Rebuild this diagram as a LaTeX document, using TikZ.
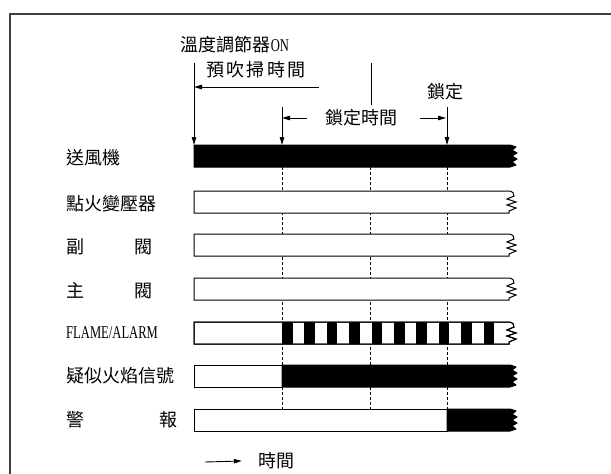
\documentclass[tikz,border=0pt]{standalone}
\usepackage{fontspec}
\newfontfamily\cjk{Noto Sans CJK TC}
\newfontfamily\latf[FakeStretch=0.7]{Liberation Serif}
\usetikzlibrary{arrows.meta}
\begin{document}
\begin{tikzpicture}[
x=1pt, y=-1pt,
>={Triangle[length=8pt,width=4.5pt]},
frm/.style = {draw=black!75,line width=2.5pt},
lbl/.style = {anchor=west,inner sep=0pt,font=\cjk\fontsize{18}{20}\selectfont},
txt/.style = {inner sep=0pt,font=\cjk\fontsize{18}{20}\selectfont},
arr/.style = {draw,->,line width=0.9pt},
tck/.style = {draw,line width=0.9pt},
dsh/.style = {draw,line width=0.8pt,dash pattern=on 3pt off 2pt},
wbar/.style = {draw,fill=white,line width=1pt},
bbar/.style = {draw,fill=black,line width=1pt,line join=round},
torn/.style = {insert path={-- ++(6,2) -- ++(-4,3) -- ++(5,3) -- ++(-5,3) -- ++(5,3) -- ++(-5,3) -- ++(4,3) -- ++(-6,2)}},
wavy/.style = {insert path={to[out=0,in=90] ++(4,5) -- ++(-7,3) -- ++(9,3) -- ++(-9,3) -- ++(9,3) -- ++(-7,3) -- ++(0,2)}}
]
  \useasboundingbox (0,0) rectangle (611,474);
  \path[frm] (611,14) -- (10,14) -- (10,474);

  \coordinate (t0) at (194,145);
  \coordinate (t1) at (282,145);
  \coordinate (t2) at (370,145);
  \coordinate (t3) at (447,145);
  \coordinate (s0) at (194,63);
  \coordinate (s1) at (282,107);
  \coordinate (s3) at (447,107);
  \coordinate (m2a) at (371,63);
  \coordinate (m2b) at (371,105);
  \coordinate (pg) at (319,87);
  \coordinate (ts) at (205,462);

  \node[txt] (ton) at (235,45) {溫度調節器{\latf ON}};
  \node[txt] (purge) at (256,70) {預\kern2.5pt 吹\kern2.5pt 掃\kern2.5pt 時\kern2.5pt 間};
  \node[txt] (lockt) at (361,118) {鎖定時間};
  \node[txt] (lock) at (445,92) {鎖定};
  \node[txt] (time) at (276,461) {時間};

  \path[arr] (s0) -- (t0);
  \path[arr] (pg) -- (t0 |- pg);
  \path[arr] (s1) -- (t1);
  \path[arr] (s3) -- (t3);
  \path[tck] (m2a) -- (m2b);
  \path[arr] ([xshift=-18pt]lockt.west) -- (t1 |- lockt);
  \path[arr] ([xshift=23pt]lockt.east) -- ([xshift=-1pt]t3 |- lockt);
  \path[arr] (ts) -- ([xshift=-16pt]time.west);

  \path[dsh] (282,167) -- (282,409);
  \path[dsh] (370,167) -- (370,409);
  \path[dsh] (447,167) -- (447,409);

  \node[lbl] (fan) at (66,158) {送風機};
  \node[lbl] (ign) at (66,204) {點火變壓器};
  \node[lbl] (pilot) at (66,247) {副\hspace{50pt}閥};
  \node[lbl] (main) at (66,291) {主\hspace{50pt}閥};
  \node[lbl,font=\latf\fontsize{18}{20}\selectfont] (flame) at (66,333) {FLAME/ALARM};
  \node[lbl] (fake) at (66,376) {疑似火焰信號};
  \node[lbl] (alarm) at (66,420) {警\hspace{75pt}報};

  \path[bbar] (194,145) -- (510,145) [torn] -- (194,167) -- cycle;

  \path[wbar] (194,191) -- (510,191) [wavy] -- (194,213) -- cycle;
  \path[wbar] (194,234) -- (510,234) [wavy] -- (194,256) -- cycle;
  \path[wbar] (194,278) -- (510,278) [wavy] -- (194,300) -- cycle;

  \path[wbar] (194,322) -- (510,322) [wavy] -- (194,344) -- cycle;
  \foreach \i in {0,...,9}
    \fill ({282+\i*22.4},322) rectangle ++(10.5,22);
  \path[draw,line width=1pt] (194,322) -- (510,322) [wavy] -- (194,344) -- cycle;

  \path[wbar] (194,365) rectangle (282,387);
  \path[bbar] (282,365) -- (510,365) [torn] -- (282,387) -- cycle;

  \path[wbar] (194,409) rectangle (447,431);
  \path[bbar] (447,409) -- (510,409) [torn] -- (447,431) -- cycle;
\end{tikzpicture}
\end{document}
